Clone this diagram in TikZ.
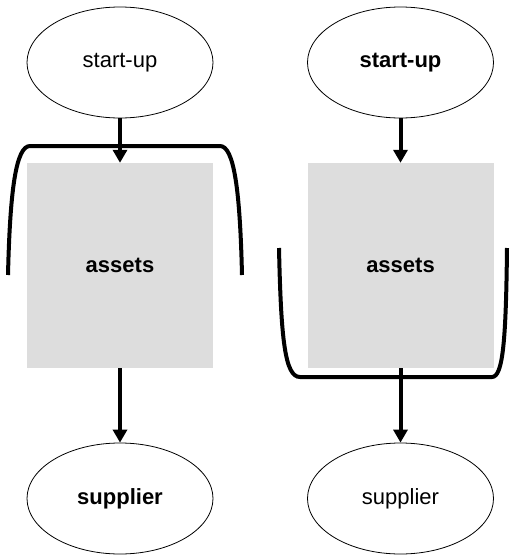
\documentclass[tikz,border=0pt]{standalone}
\usepackage{fontspec}
\setmainfont{Liberation Sans}
\usepackage{tikz}
\usetikzlibrary{arrows.meta,shapes.geometric}
\definecolor{assetFill}{HTML}{DDDDDD}
\tikzset{
  actor/.style={
    ellipse, draw=black, line width=0.8pt,
    minimum width=186pt, minimum height=111pt,
    inner sep=0pt, font=\fontsize{22}{26}\selectfont
  },
  pool/.style={
    rectangle, fill=assetFill, draw=none,
    minimum width=186pt, minimum height=205pt,
    inner sep=0pt, font=\fontsize{22}{26}\selectfont\bfseries
  },
  flow/.style={-{Triangle[length=13pt,width=14pt]}, line width=4pt, draw=black},
  fence/.style={line width=4pt, draw=black}
}
\begin{document}
\begin{tikzpicture}[x=1pt,y=-1pt]
  \useasboundingbox (0,0) rectangle (510,555);

  % left chain
  \node[actor]  (startL)    at (120,62.5)  {start-up};
  \node[pool]   (assetsL)   at (120,265.5) {assets};
  \node[actor]  (supplierL) at (120,498.5) {\bfseries supplier};
  \draw[flow] (startL) -- (assetsL);
  \draw[flow] (assetsL) -- (supplierL);

  % right chain
  \node[actor]  (startR)    at (400.5,62.5)  {\bfseries start-up};
  \node[pool]   (assetsR)   at (400.5,265.5) {assets};
  \node[actor]  (supplierR) at (400.5,498.5) {supplier};
  \draw[flow] (startR) -- (assetsR);
  \draw[flow] (assetsR) -- (supplierR);

  % cap over the left pool
  \draw[fence] (8,275) .. controls (10,190) and (16,146) .. (30,146)
    -- (220,146) .. controls (234,146) and (240,190) .. (242,275);
  % cup under the right pool
  \draw[fence] (279,248) .. controls (281,340) and (285,377) .. (300,377)
    -- (492,377) .. controls (503,377) and (506,340) .. (507,248);
\end{tikzpicture}
\end{document}
